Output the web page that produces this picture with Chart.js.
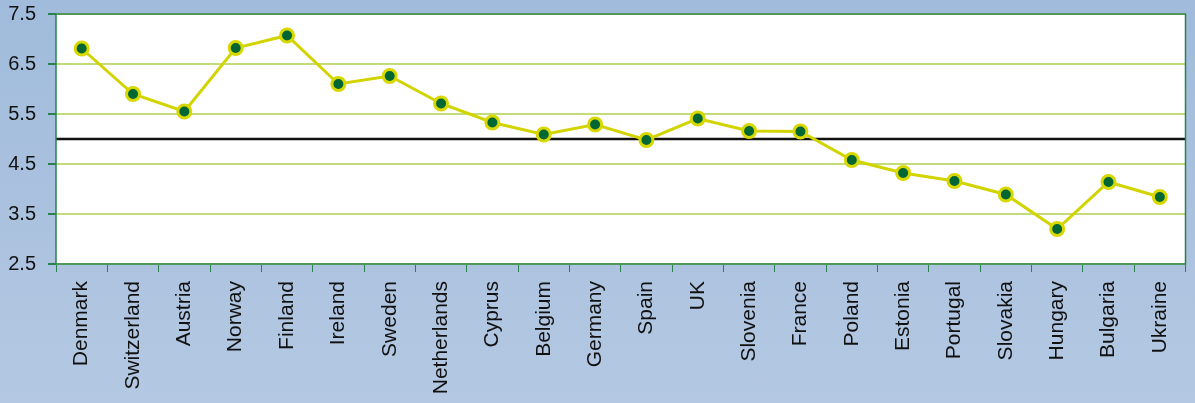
<!DOCTYPE html>
<html>
<head>
<meta charset="utf-8">
<script src="https://cdn.jsdelivr.net/npm/chart.js@4"></script>
<style>
  html, body { margin: 0; padding: 0; }
  body {
    width: 1195px; height: 403px; overflow: hidden;
    background: linear-gradient(#a0bbdb, #b4c8e2);
  }
  #wrap { position: relative; width: 1195px; height: 403px; }
</style>
</head>
<body>
<div id="wrap"><canvas id="myChart"></canvas></div>
<script>
const countries = ["Denmark", "Switzerland", "Austria", "Norway", "Finland", "Ireland",
  "Sweden", "Netherlands", "Cyprus", "Belgium", "Germany", "Spain", "UK", "Slovenia",
  "France", "Poland", "Estonia", "Portugal", "Slovakia", "Hungary", "Bulgaria", "Ukraine"];
const scores = [6.81, 5.90, 5.55, 6.82, 7.07, 6.10, 6.26, 5.71, 5.33, 5.09, 5.29, 4.98,
  5.41, 5.16, 5.15, 4.58, 4.32, 4.16, 3.89, 3.20, 4.14, 3.84];
const yTicks = [2.5, 3.5, 4.5, 5.5, 6.5, 7.5];
const refValue = 5;

// plot background, border and the reference line
const plotDecor = {
  id: "plotDecor",
  beforeDraw(chart) {
    const a = chart.chartArea;
    const c = chart.ctx;
    c.save();
    c.fillStyle = "#ffffff";
    c.fillRect(a.left, a.top, a.right - a.left, a.bottom - a.top);
    c.restore();
  },
  beforeDatasetsDraw(chart) {
    const a = chart.chartArea;
    const c = chart.ctx;
    const y = chart.scales.y.getPixelForValue(refValue);
    c.save();
    c.strokeStyle = "#111111";
    c.lineWidth = 2.5;
    c.beginPath();
    c.moveTo(a.left, y);
    c.lineTo(a.right, y);
    c.stroke();
    c.strokeStyle = "#2a8050";
    c.lineWidth = 1.5;
    c.strokeRect(a.left, a.top, a.right - a.left, a.bottom - a.top);
    c.restore();
  }
};

function myLoadFunction() {
  const ctx = document.getElementById("myChart");
  new Chart(ctx, {
    type: "line",
    data: {
      labels: countries,
      datasets: [{
        data: scores,
        borderColor: "#d2d400",
        borderWidth: 3,
        pointBackgroundColor: "#006633",
        pointBorderColor: "#d8d800",
        pointBorderWidth: 3,
        pointRadius: 6.5,
        tension: 0
      }]
    },
    options: {
      responsive: false,
      animation: false,
      layout: { padding: { top: 14, right: 2, left: 0, bottom: 0 } },
      plugins: { legend: { display: false }, tooltip: { enabled: false } },
      scales: {
        x: {
          offset: true,
          afterFit: (s) => { s.height = 139; },
          grid: { drawOnChartArea: false, drawTicks: true, tickLength: 8, tickColor: "#2a8050", offset: true },
          border: { display: false },
          ticks: {
            minRotation: 90, maxRotation: 90, padding: 9,
            color: "#111111",
            font: { family: "Liberation Sans", size: 21 }
          }
        },
        y: {
          min: 2.5, max: 7.5,
          afterFit: (s) => { s.width = 56; s.paddingTop = 0; s.paddingBottom = 0; },
          afterBuildTicks: (s) => { s.ticks = yTicks.map(v => ({ value: v })); },
          grid: { color: "#c4dc78", lineWidth: 2, tickLength: 8, tickColor: "#2a8050" },
          border: { display: false },
          ticks: {
            padding: 12,
            color: "#111111",
            font: { family: "Liberation Sans", size: 20 },
            callback: (v) => v.toFixed(1)
          }
        }
      }
    },
    plugins: [plotDecor]
  });
}

const cv = document.getElementById("myChart");
cv.width = 1195;
cv.height = 403;
document.addEventListener("DOMContentLoaded", myLoadFunction);
</script>
</body>
</html>
